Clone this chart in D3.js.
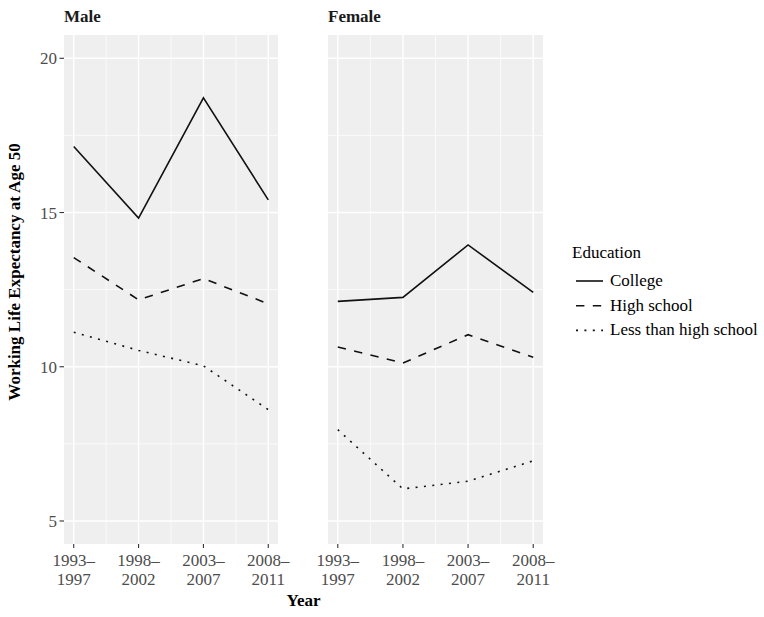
<!DOCTYPE html>
<html>
<head>
<meta charset="utf-8">
<script src="https://cdn.jsdelivr.net/npm/d3@7"></script>
<style>
  body { margin: 0; background: #fff; }
  text { font-family: "Liberation Serif", "Times New Roman", serif; }
</style>
</head>
<body>
<svg id="chart" width="764" height="617"></svg>
<script>
// Data
const periods = ['1993–1997', '1998–2002', '2003–2007', '2008–2011'];
const sexes = ['Male', 'Female'];
const educations = ['College', 'High school', 'Less than high school'];
const maleCollege = [17.14, 14.82, 18.72, 15.41];
const maleHigh = [13.54, 12.17, 12.86, 12.04];
const maleLess = [11.12, 10.53, 10.03, 8.61];
const femaleCollege = [12.12, 12.25, 13.95, 12.41];
const femaleHigh = [10.64, 10.12, 11.04, 10.31];
const femaleLess = [7.96, 6.04, 6.29, 6.95];
const yTicks = [5, 10, 15, 20];

const series = {
    Male: [maleCollege, maleHigh, maleLess],
    Female: [femaleCollege, femaleHigh, femaleLess]
};

const dashes = { 'College': null, 'High school': '8.4,8.4', 'Less than high school': '2,6.4' };

const svg = d3.select('#chart');
const panelTop = 35, panelBottom = 544;
const panels = [{x0: 64, x1: 278}, {x0: 328, x1: 543}];
const fs = '17px';

const y = d3.scaleLinear().domain([4.254, 20.755]).range([panelBottom, panelTop]);

sexes.forEach((sex, i) => {
    const p = panels[i];
    const x = d3.scaleLinear().domain([0.85, 4.15]).range([p.x0, p.x1]);
    const g = svg.append('g');

    // panel background
    g.append('rect')
        .attr('x', p.x0).attr('y', panelTop)
        .attr('width', p.x1 - p.x0).attr('height', panelBottom - panelTop)
        .attr('fill', '#efefef');

    // minor grid
    [7.5, 12.5, 17.5].forEach(v => {
        g.append('line').attr('x1', p.x0).attr('x2', p.x1)
            .attr('y1', y(v)).attr('y2', y(v))
            .attr('stroke', '#fff').attr('stroke-width', 0.7);
    });
    [1.5, 2.5, 3.5].forEach(v => {
        g.append('line').attr('y1', panelTop).attr('y2', panelBottom)
            .attr('x1', x(v)).attr('x2', x(v))
            .attr('stroke', '#fff').attr('stroke-width', 0.7);
    });
    // major grid
    yTicks.forEach(v => {
        g.append('line').attr('x1', p.x0).attr('x2', p.x1)
            .attr('y1', y(v)).attr('y2', y(v))
            .attr('stroke', '#fff').attr('stroke-width', 1.4);
    });
    periods.forEach((d, j) => {
        g.append('line').attr('y1', panelTop).attr('y2', panelBottom)
            .attr('x1', x(j + 1)).attr('x2', x(j + 1))
            .attr('stroke', '#fff').attr('stroke-width', 1.4);
    });

    // lines
    const line = d3.line().x((d, j) => x(j + 1)).y(d => y(d));
    series[sex].forEach((vals, k) => {
        g.append('path')
            .datum(vals)
            .attr('d', line)
            .attr('fill', 'none')
            .attr('stroke', '#111')
            .attr('stroke-width', 1.6)
            .attr('stroke-dasharray', dashes[educations[k]]);
    });

    // x axis
    periods.forEach((d, j) => {
        g.append('line').attr('x1', x(j + 1)).attr('x2', x(j + 1))
            .attr('y1', panelBottom).attr('y2', panelBottom + 4)
            .attr('stroke', '#333').attr('stroke-width', 1.1);
        const parts = d.split('–');
        const t = g.append('text')
            .attr('text-anchor', 'middle')
            .attr('fill', '#4d4d4d')
            .style('font-size', fs);
        t.append('tspan').attr('x', x(j + 1)).attr('y', 566).text(parts[0] + '–');
        t.append('tspan').attr('x', x(j + 1)).attr('y', 584.5).text(parts[1]);
    });

    // strip title
    g.append('text')
        .attr('x', p.x0).attr('y', 22)
        .style('font-size', fs).style('font-weight', 'bold')
        .attr('fill', '#1a1a1a')
        .text(sex);
});

// y axis (left panel only)
yTicks.forEach(v => {
    svg.append('line').attr('x1', 59.5).attr('x2', 64)
        .attr('y1', y(v)).attr('y2', y(v))
        .attr('stroke', '#333').attr('stroke-width', 1.1);
    svg.append('text')
        .attr('x', 57).attr('y', y(v) + 6)
        .attr('text-anchor', 'end')
        .attr('fill', '#4d4d4d')
        .style('font-size', fs)
        .text(v);
});

// axis titles
svg.append('text')
    .attr('transform', 'translate(20,272) rotate(-90)')
    .attr('text-anchor', 'middle')
    .style('font-size', fs).style('font-weight', 'bold')
    .text('Working Life Expectancy at Age 50');

svg.append('text')
    .attr('x', 303.5).attr('y', 606)
    .attr('text-anchor', 'middle')
    .style('font-size', fs).style('font-weight', 'bold')
    .text('Year');

// legend
const legend = svg.append('g');
legend.append('text')
    .attr('x', 572).attr('y', 257.5)
    .style('font-size', fs)
    .text('Education');
educations.forEach((e, k) => {
    const ly = 281 + k * 24.7;
    legend.append('line')
        .attr('x1', 576).attr('x2', 603)
        .attr('y1', ly).attr('y2', ly)
        .attr('stroke', '#111').attr('stroke-width', 1.6)
        .attr('stroke-dasharray', dashes[e]);
    legend.append('text')
        .attr('x', 610).attr('y', ly + 5)
        .style('font-size', fs)
        .text(e);
});
</script>
</body>
</html>
